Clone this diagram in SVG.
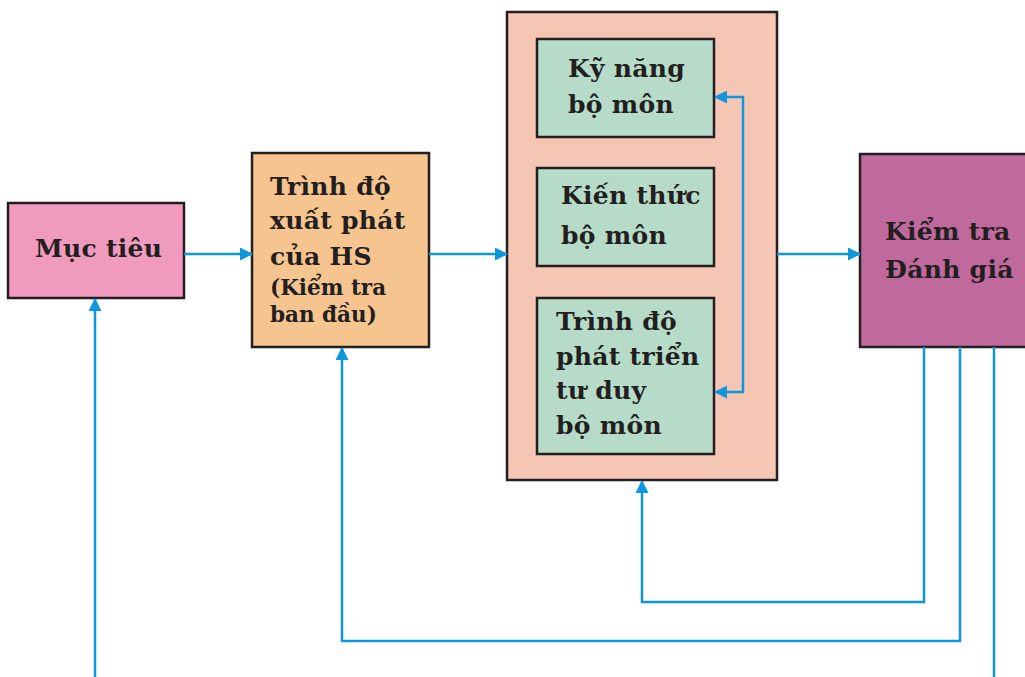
<svg xmlns="http://www.w3.org/2000/svg" width="1025" height="677" viewBox="0 0 1025 677">
<defs>
<style>
.box{stroke:#231f20;stroke-width:2.5}
.t{font-family:"DejaVu Serif","Liberation Serif",serif;font-weight:bold;font-size:25px;fill:#231f20;letter-spacing:0.3px}
.s{font-size:21.5px;letter-spacing:0}
.c{fill:none;stroke:#0f96dc;stroke-width:2.5}
</style>
<marker id="ah" markerWidth="13" markerHeight="13" viewBox="0 0 13 13" refX="12" refY="6.5" orient="auto" markerUnits="userSpaceOnUse">
<path d="M0,0 L13,6.5 L0,13 Z" fill="#0f96dc"/>
</marker>
</defs>
<rect width="1025" height="677" fill="#ffffff"/>
<g id="muc-tieu">
<rect class="box" x="8" y="203" width="176" height="95" fill="#f09abd"/>
<text class="t" x="35" y="257">Mục tiêu</text>
</g>
<g id="trinh-do-xuat-phat">
<rect class="box" x="252" y="153" width="177" height="194" fill="#f6c48f"/>
<text class="t" x="270" y="195">Trình độ</text>
<text class="t" x="270" y="229">xuất phát</text>
<text class="t" x="270" y="265">của HS</text>
<text class="t s" x="270" y="295">(Kiểm tra</text>
<text class="t s" x="270" y="322">ban đầu)</text>
</g>
<g id="khoi-bo-mon">
<rect class="box" x="507" y="12" width="270" height="468" fill="#f6c6b4"/>
</g>
<g id="ky-nang">
<rect class="box" x="537" y="39" width="177" height="98" fill="#b6dcc9"/>
<text class="t" x="568" y="77">Kỹ năng</text>
<text class="t" x="568" y="113">bộ môn</text>
</g>
<g id="kien-thuc">
<rect class="box" x="537" y="168" width="177" height="98" fill="#b6dcc9"/>
<text class="t" x="561" y="204">Kiến thức</text>
<text class="t" x="561" y="244">bộ môn</text>
</g>
<g id="trinh-do-phat-trien">
<rect class="box" x="537" y="298" width="177" height="156" fill="#b6dcc9"/>
<text class="t" x="556" y="330">Trình độ</text>
<text class="t" x="556" y="365">phát triển</text>
<text class="t" x="556" y="399">tư duy</text>
<text class="t" x="556" y="434">bộ môn</text>
</g>
<g id="kiem-tra-danh-gia">
<rect class="box" x="860" y="154" width="170" height="193" fill="#c0699d"/>
<text class="t" x="885" y="240">Kiểm tra</text>
<text class="t" x="885" y="278">Đánh giá</text>
</g>
<g id="connectors">
<path class="c" d="M184,254 H252" marker-end="url(#ah)"/>
<path class="c" d="M429,254 H507" marker-end="url(#ah)"/>
<path class="c" d="M777,254 H860" marker-end="url(#ah)"/>
<path class="c" d="M743,244 V97 H715" marker-end="url(#ah)"/>
<path class="c" d="M743,244 V392 H715" marker-end="url(#ah)"/>
<path class="c" d="M924,347 V602 H642 V481" marker-end="url(#ah)"/>
<path class="c" d="M960,347 V641 H342 V348" marker-end="url(#ah)"/>
<path class="c" d="M994,347 V677"/>
<path class="c" d="M95,677 V299" marker-end="url(#ah)"/>
</g>
</svg>
